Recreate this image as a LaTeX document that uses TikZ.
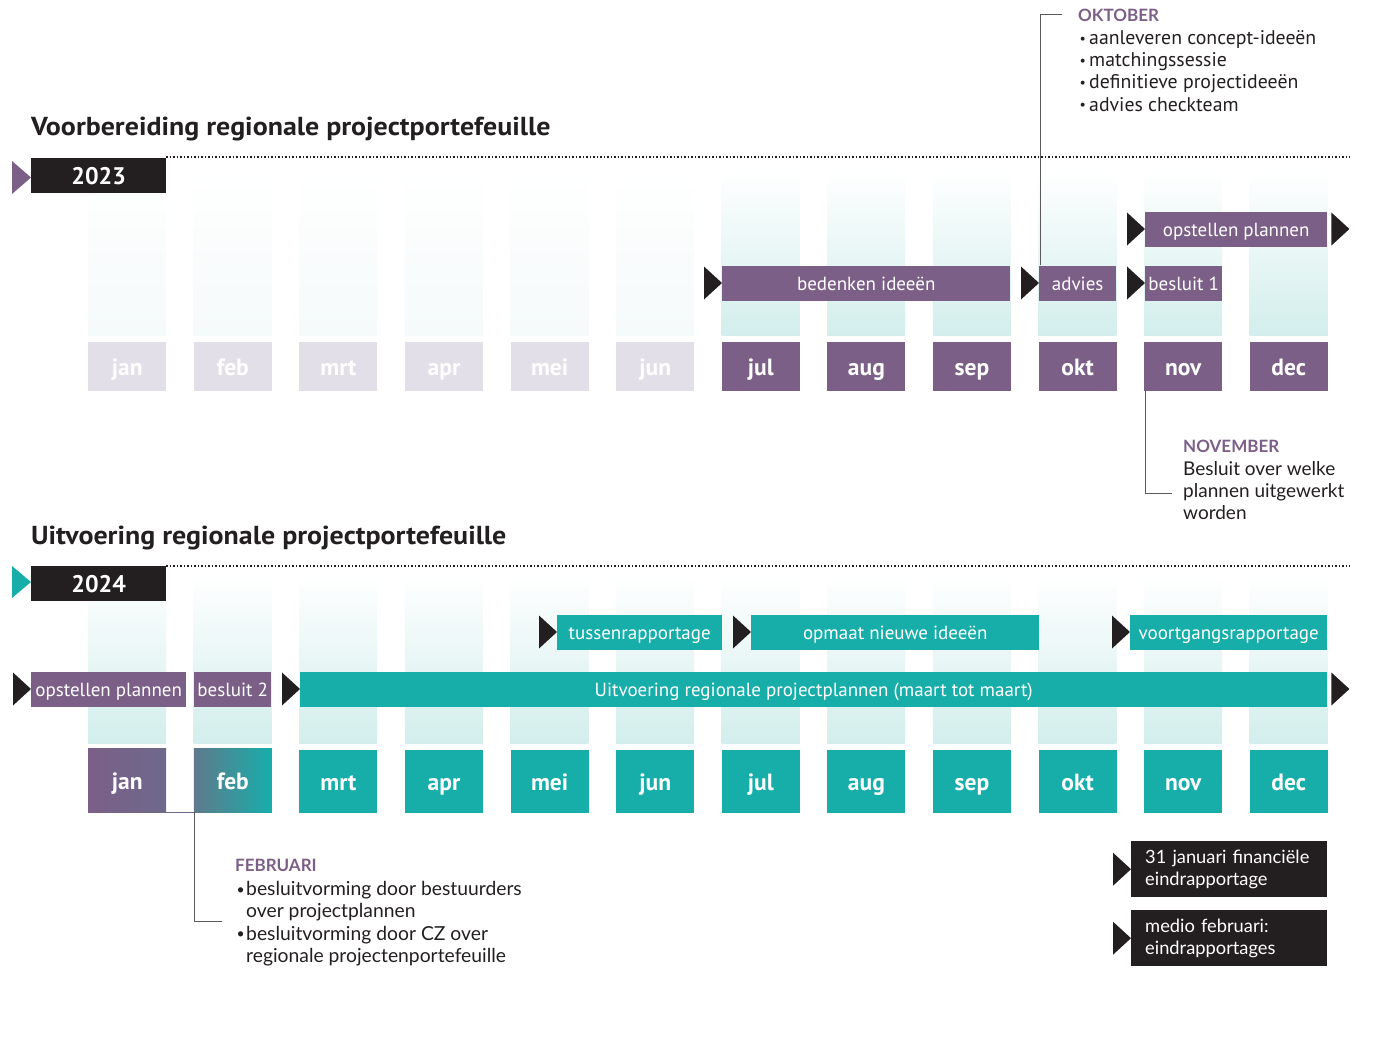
\documentclass[tikz,border=0pt]{standalone}
\usepackage{fontspec}
\setmainfont{Lato}
\newfontfamily\ptsans{PT Sans}
\newfontfamily\lato{Lato}
\usetikzlibrary{calc}
\definecolor{pur}{RGB}{123,95,135}
\definecolor{tea}{RGB}{23,174,170}
\definecolor{lav}{RGB}{227,223,232}
\definecolor{blk}{RGB}{35,31,32}
\definecolor{colbot}{RGB}{210,238,236}
\definecolor{faintbot}{RGB}{245,250,250}
\definecolor{janr}{RGB}{110,105,140}
\definecolor{febl}{RGB}{95,122,140}
\definecolor{annline}{RGB}{90,90,90}
\newcommand{\lefttri}[2][blk]{\fill[#1] ($(#2.west)+(-18,-16.5)$) -- (#2.west) -- ($(#2.west)+(-18,16.5)$) -- cycle;}
\newcommand{\righttri}[2][blk]{\fill[#1] ($(#2.east)+(4,-16.5)$) -- ($(#2.east)+(22,0)$) -- ($(#2.east)+(4,16.5)$) -- cycle;}
\newcommand{\bul}{\makebox[11pt][l]{\kern1.5pt\raisebox{1.2pt}{\fontsize{14}{14}\selectfont\textbullet}}}
\newcommand{\nobul}{\makebox[11pt][l]{}}
\begin{document}
\begin{tikzpicture}[x=1pt,y=-1pt,
  monthbox/.style={anchor=north west, minimum width=78pt, inner sep=0pt, text=white,
     text height=20pt, text depth=2pt,
     font=\ptsans\bfseries\fontsize{23.5}{26}\selectfont},
  barbox/.style={anchor=west, minimum height=35pt, inner sep=0pt, text=white,
     text height=16pt, text depth=2pt,
     font=\ptsans\fontsize{19}{22}\selectfont},
  yearbox/.style={anchor=north west, minimum width=135pt, minimum height=35pt, inner sep=0pt,
     text height=19pt, text depth=2pt,
     fill=blk, text=white, font=\ptsans\bfseries\fontsize{24}{26}\selectfont},
  titletext/.style={anchor=west, inner sep=0pt, text=blk, font=\ptsans\bfseries\fontsize{26}{28}\selectfont},
  anntitle/.style={anchor=west, inner sep=0pt, text=pur, font=\lato\bfseries\fontsize{17}{20}\selectfont},
  anntext/.style={anchor=north west, inner sep=0pt, align=left, text=blk, font=\lato\fontsize{19}{22.3}\selectfont},
  blackbox/.style={anchor=north west, fill=blk, text=white, minimum width=196pt, minimum height=56pt,
     text width=168pt, inner xsep=14pt, inner ysep=0pt, align=left, font=\lato\fontsize{18.3}{22}\selectfont},
  annline/.style={draw=annline, line width=1pt},
  dotline/.style={line width=1.6pt, dash pattern=on 1.6pt off 1.9pt, draw=blk}
]
\useasboundingbox (0,0) rectangle (1376,1046);

% ===== Section 1 =====
\node[titletext] (title1) at (31,129) {\scalebox{1.075}[1]{Voorbereiding regionale projectportefeuille}};
\draw[dotline] (166,157) -- (1350,157);
% background columns
\foreach \i in {1,...,6} {
  \shade[top color=white, bottom color=faintbot] ({88+(\i-1)*105.6},170) rectangle ++(78,165);
}
\foreach \i in {7,...,12} {
  \shade[top color=white, bottom color=colbot] ({88+(\i-1)*105.6},170) rectangle ++(78,165);
}
\node[yearbox] (y2023) at (31,158) {2023};
\fill[pur] (12,161) -- (31,177.5) -- (12,194) -- cycle;

\foreach \m [count=\i] in {jan,feb,mrt,apr,mei,jun} {
  \node[monthbox, fill=lav, minimum height=49pt] (t\i) at ({88+(\i-1)*105.6},342) {\m};
}
\foreach \m [count=\i from 7] in {jul,aug,sep,okt,nov,dec} {
  \node[monthbox, fill=pur, minimum height=49pt] (t\i) at ({88+(\i-1)*105.6},342) {\m};
}

\node[barbox, fill=pur, minimum width=288pt] (bedenken) at (722,283) {bedenken ideeën};
\node[barbox, fill=pur, minimum width=77pt] (advies) at (1039,283) {advies};
\node[barbox, fill=pur, minimum width=77pt] (besluit1) at (1145,283) {besluit 1};
\node[barbox, fill=pur, minimum width=182pt] (opst1) at (1145,229) {opstellen plannen};
\lefttri{bedenken}
\lefttri{advies}
\lefttri{besluit1}
\lefttri{opst1}
\righttri{opst1}

% OKTOBER annotation
\node[anntitle] (okttitle) at (1078,15) {OKTOBER};
\node[anntext, font=\ptsans\fontsize{19.8}{22.3}\selectfont] (oktlist) at (1078,30)
  {\bul aanleveren concept-ideeën\\
   \bul matchingssessie\\
   \bul definitieve projectideeën\\
   \bul advies checkteam};
\draw[annline] ([xshift=1pt]advies.north west) |- ([xshift=-16pt]okttitle.west);

% NOVEMBER annotation
\node[anntitle] (novtitle) at (1183,446) {NOVEMBER};
\node[anntext] (novtext) at (1183,461) {Besluit over welke\\ plannen uitgewerkt\\ worden};
\coordinate (novend) at (1172,493);
\draw[annline] ([xshift=1pt]t11.south west) |- (novend);

% ===== Section 2 =====
\node[titletext] (title2) at (31,538) {\scalebox{1.075}[1]{Uitvoering regionale projectportefeuille}};
\draw[dotline] (166,566) -- (1350,566);
\foreach \i in {1,...,12} {
  \shade[top color=white, bottom color=colbot] ({88+(\i-1)*105.6},575) rectangle ++(78,168);
}
\node[yearbox] (y2024) at (31,566) {2024};
\fill[tea] (12,566) -- (31,582) -- (12,598) -- cycle;

\node[monthbox, left color=pur, right color=janr, minimum height=64pt] (b1) at (88,748) {jan};
\node[monthbox, left color=febl, right color=tea, minimum height=64pt] (b2) at (193.6,748) {feb};
\foreach \m [count=\i from 3] in {mrt,apr,mei,jun,jul,aug,sep,okt,nov,dec} {
  \node[monthbox, fill=tea, minimum height=63pt] (b\i) at ({88+(\i-1)*105.6},750) {\m};
}

\node[barbox, fill=tea, minimum width=165pt] (tussen) at (557,632) {tussenrapportage};
\node[barbox, fill=tea, minimum width=288pt] (opmaat) at (751,632) {opmaat nieuwe ideeën};
\node[barbox, fill=tea, minimum width=197pt] (voortgang) at (1130,632) {voortgangsrapportage};
\node[barbox, fill=pur, minimum width=155pt] (opst2) at (31,689) {opstellen plannen};
\node[barbox, fill=pur, minimum width=77pt] (besluit2) at (194,689) {besluit 2};
\node[barbox, fill=tea, minimum width=1027pt] (uitv) at (300,689) {Uitvoering regionale projectplannen (maart tot maart)};
\lefttri{tussen}
\lefttri{opmaat}
\lefttri{voortgang}
\lefttri{opst2}
\lefttri{uitv}
\righttri{uitv}

% FEBRUARI annotation
\node[anntitle] (febtitle) at (235,865) {FEBRUARI};
\node[anntext, font=\lato\fontsize{19.3}{22.3}\selectfont] (febtext) at (235,881)
  {\bul besluitvorming door bestuurders\\
   \nobul over projectplannen\\
   \bul besluitvorming door CZ over\\
   \nobul regionale projectenportefeuille};
\coordinate (febend) at (222,921);
\draw[draw=janr, line width=1pt] (b1.south east) -- (b2.south west);
\draw[annline] ([xshift=0.5pt]b2.south west) |- (febend);

% black boxes
\node[blackbox] (fin) at (1131,841) {31 januari financiële\\ eindrapportage};
\node[blackbox] (medio) at (1131,910) {medio februari:\\ eindrapportages};
\lefttri{fin}
\lefttri{medio}
\end{tikzpicture}
\end{document}
